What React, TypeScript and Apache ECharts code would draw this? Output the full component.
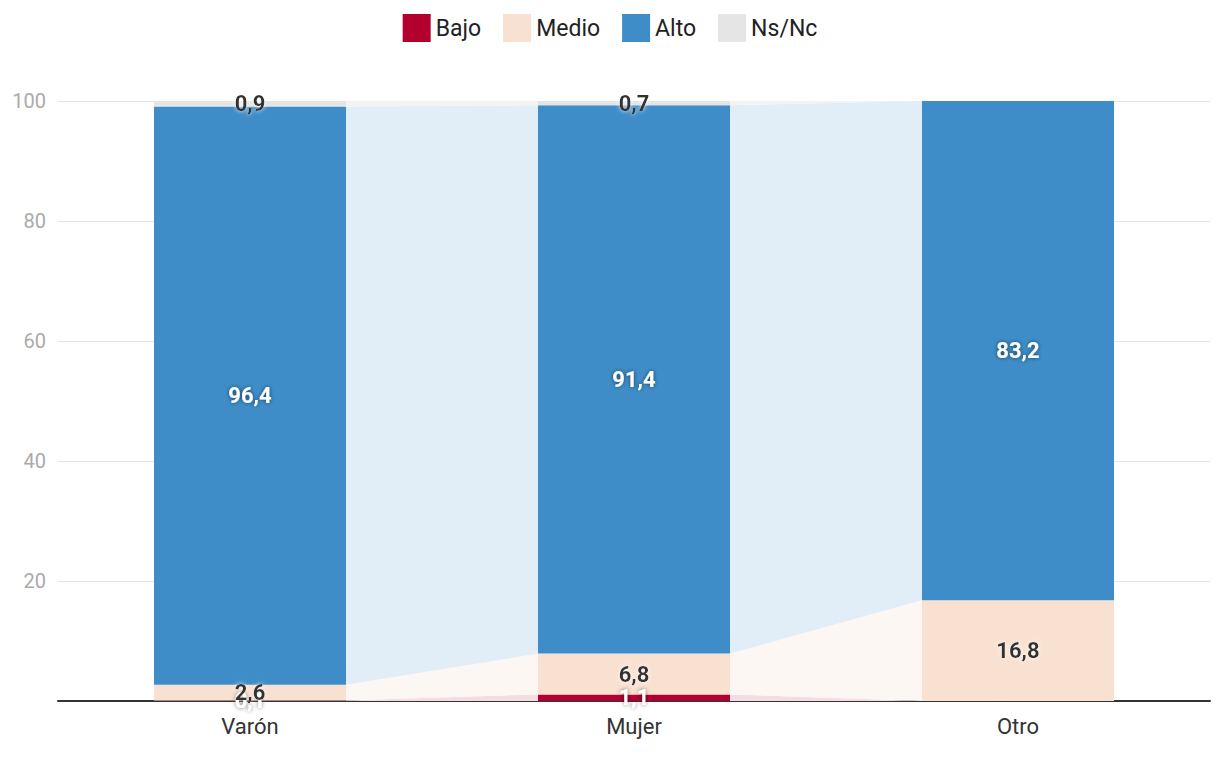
import React, { useEffect, useRef } from "react";
import * as echarts from "echarts";

const categories = ["Varón", "Mujer", "Otro"];
const seriesNames = ["Bajo", "Medio", "Alto", "Ns/Nc"];
const bajo = [0.1, 1.1, 0];
const medio = [2.6, 6.8, 16.8];
const alto = [96.4, 91.4, 83.2];
const nsnc = [0.9, 0.7, 0];
const yTicks = [0, 20, 40, 60, 80, 100];

const colors = ["#b4002f", "#f9e1d1", "#3f8dc8", "#e5e5e5"];
const linkColors = ["#f6dbe2", "#fdf7f3", "#e1edf7", "#f3f3f3"];
const labelDark = [false, true, false, true];

export default function App() {
  const ref = useRef<HTMLDivElement>(null);
  useEffect(() => {
    const chart = echarts.init(ref.current!, null, { renderer: "svg" });
    const layers = [bajo, medio, alto, nsnc];
    const lows: number[][] = [];
    const highs: number[][] = [];
    layers.forEach((arr, li) => {
      lows.push(arr.map((_, ci) => layers.slice(0, li).reduce((s, a) => s + a[ci], 0)));
      highs.push(arr.map((_, ci) => layers.slice(0, li + 1).reduce((s, a) => s + a[ci], 0)));
    });
    const linkData: number[][] = [];
    for (let ci = 0; ci < categories.length - 1; ci++) {
      for (let li = 0; li < layers.length; li++) linkData.push([ci, li]);
    }
    const fmt = (v: number) => v.toFixed(1).replace(".", ",");
    const barSeries = layers.map((arr, li) => ({
      name: seriesNames[li],
      type: "bar",
      stack: "total",
      barWidth: "50%",
      data: arr,
      itemStyle: { color: colors[li] },
      z: 3,
      label: {
        show: true,
        position: "inside",
        fontFamily: "Roboto",
        fontSize: 22,
        fontWeight: "bold",
        color: labelDark[li] ? "#333" : "#fff",
        textBorderWidth: 0,
        textShadowColor: labelDark[li] ? "rgba(255,255,255,0.9)" : "rgba(0,0,0,0.55)",
        textShadowBlur: 4,
        formatter: (p: any) => (p.value > 0 ? fmt(p.value) : ""),
      },
    }));
    chart.setOption({
      animation: false,
      textStyle: { fontFamily: "Roboto" },
      legend: {
        top: 9,
        left: "center",
        itemWidth: 28,
        itemHeight: 28,
        itemGap: 22,
        icon: "rect",
        textStyle: { fontSize: 23, color: "#222", fontFamily: "Roboto" },
        data: seriesNames,
      },
      grid: { left: 58, right: 10, top: 101, bottom: 61 },
      xAxis: {
        type: "category",
        data: categories,
        axisLine: { lineStyle: { color: "#333", width: 2 } },
        axisTick: { show: false },
        axisLabel: { fontSize: 22, color: "#333", margin: 14 },
      },
      yAxis: {
        type: "value",
        min: yTicks[0],
        max: yTicks[yTicks.length - 1],
        interval: 20,
        axisLine: { show: false },
        axisTick: { show: false },
        axisLabel: { fontSize: 20, color: "#aaa", margin: 12, showMinLabel: false },
        splitLine: { lineStyle: { color: "#e5e5e5", width: 1 } },
      },
      series: [
        {
          type: "custom",
          name: "links",
          z: 1,
          silent: true,
          data: linkData,
          renderItem: (params: any, api: any) => {
            const ci = api.value(0);
            const li = api.value(1);
            const band = api.size([1, 0])[0];
            const half = band * 0.25;
            const x1 = api.coord([ci, 0])[0] + half;
            const x2 = api.coord([ci + 1, 0])[0] - half;
            const yl1 = api.coord([ci, lows[li][ci]])[1];
            const yh1 = api.coord([ci, highs[li][ci]])[1];
            const yl2 = api.coord([ci + 1, lows[li][ci + 1]])[1];
            const yh2 = api.coord([ci + 1, highs[li][ci + 1]])[1];
            return {
              type: "polygon",
              shape: { points: [[x1, yl1], [x1, yh1], [x2, yh2], [x2, yl2]] },
              style: { fill: linkColors[li] },
            };
          },
        },
        ...barSeries,
      ],
    });
    return () => chart.dispose();
  }, []);
  return (
    <div
      ref={ref}
      style={{ position: "absolute", left: 0, top: 0, width: 1220, height: 762 }}
    />
  );
}
